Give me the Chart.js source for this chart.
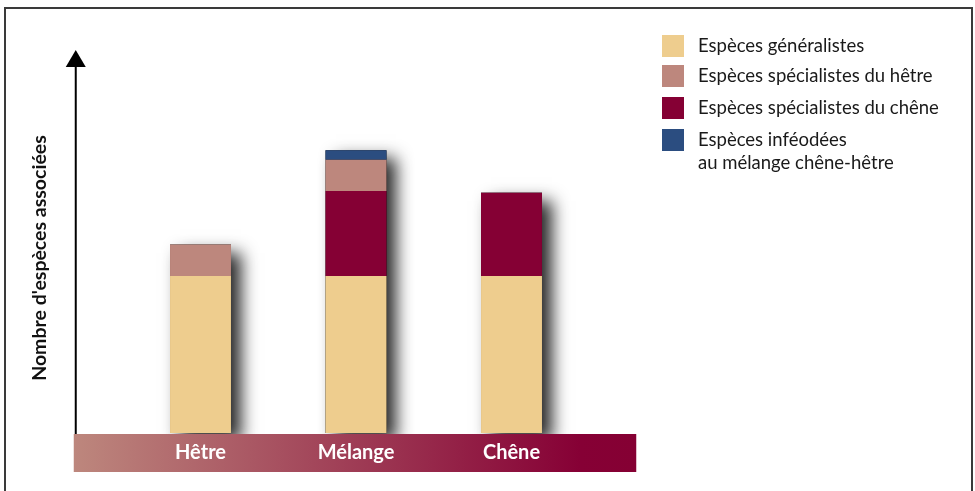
<!DOCTYPE html>
<html>
<head>
<meta charset="utf-8">
<script src="https://cdn.jsdelivr.net/npm/chart.js@4"></script>
<style>
  html, body { margin: 0; padding: 0; background: #fff; }
  #wrap { width: 975px; height: 491px; position: relative; }
</style>
</head>
<body>
<div id="wrap"><canvas id="myChart" width="975" height="491"></canvas></div>
<script>
// categories along the x band
const categories = ["Hêtre", "Mélange", "Chêne"];

// number of associated species (no scale shown, values read in relative units)
const generalistes = [50, 50, 50];
const specialistesHetre = [10, 10, 0];
const specialistesChene = [0, 27, 26.5];
const infeodees = [0, 3, 0];

const legendLabels = [
  ["Espèces généralistes"],
  ["Espèces spécialistes du hêtre"],
  ["Espèces spécialistes du chêne"],
  ["Espèces inféodées", "au mélange chêne-hêtre"],
];
const yTitle = "Nombre d'espèces associées";

const colors = ["#eecd8e", "#bd877d", "#850034", "#2b4d80"];

// frame, arrow, band, labels, legend and shadows drawn around the chart
const decorations = {
  id: "decorations",
  beforeDatasetsDraw(chart) {
    const ctx = chart.ctx;
    const base = chart.getDatasetMeta(0).data;
    ctx.save();
    ctx.shadowColor = "rgba(0,0,0,0.85)";
    ctx.shadowBlur = 16;
    ctx.shadowOffsetX = 10;
    ctx.shadowOffsetY = 8;
    ctx.fillStyle = "#000";
    for (let i = 0; i < base.length; i++) {
      let top = base[i].y;
      for (let d = 0; d < chart.data.datasets.length; d++) {
        const el = chart.getDatasetMeta(d).data[i];
        if (chart.data.datasets[d].data[i] > 0 && el.y < top) top = el.y;
      }
      const w = base[i].width;
      ctx.fillRect(base[i].x - w / 2, top, w, base[i].base - top);
    }
    ctx.restore();
  },
  afterDraw(chart) {
    const ctx = chart.ctx;
    const area = chart.chartArea;
    const x = chart.scales.x;
    ctx.save();

    // frame
    ctx.strokeStyle = "#3a3a3a";
    ctx.lineWidth = 2;
    ctx.strokeRect(5, 8, 967, 500);

    // band under the bars
    const bandL = area.left - 49, bandR = area.right + 47;
    const g = ctx.createLinearGradient(bandL, 0, bandR, 0);
    g.addColorStop(0, "#bd877d");
    g.addColorStop(0.9, "#860035");
    g.addColorStop(1, "#850033");
    ctx.fillStyle = g;
    ctx.fillRect(bandL, area.bottom + 1, bandR - bandL, 38);

    // y axis with arrow
    const ax = area.left - 47;
    ctx.strokeStyle = "#000";
    ctx.lineWidth = 2;
    ctx.beginPath();
    ctx.moveTo(ax, area.bottom + 1);
    ctx.lineTo(ax, area.top + 6);
    ctx.stroke();
    ctx.fillStyle = "#000";
    ctx.beginPath();
    ctx.moveTo(ax, area.top - 6);
    ctx.lineTo(ax - 10, area.top + 11);
    ctx.lineTo(ax + 10, area.top + 11);
    ctx.closePath();
    ctx.fill();

    // category labels
    ctx.fillStyle = "#fff";
    ctx.font = "bold 20px Lato";
    ctx.textAlign = "center";
    ctx.textBaseline = "middle";
    categories.forEach((c, i) => {
      ctx.fillText(c, x.getPixelForValue(i), area.bottom + 20);
    });

    // y title
    ctx.save();
    ctx.translate(40, 258);
    ctx.rotate(-Math.PI / 2);
    ctx.fillStyle = "#111";
    ctx.font = "bold 19.5px Lato";
    ctx.fillText(yTitle, 0, 0);
    ctx.restore();

    // legend
    ctx.textAlign = "left";
    ctx.font = "18.5px Lato";
    const rows = [46, 76, 108, 140];
    legendLabels.forEach((lines, i) => {
      ctx.fillStyle = colors[i];
      ctx.fillRect(662, rows[i] - 11, 22, 22);
      ctx.fillStyle = "#1a1a1a";
      lines.forEach((t, j) => ctx.fillText(t, 698, rows[i] + j * 23));
    });
    ctx.restore();
  },
};

const ctx = document.getElementById("myChart");
new Chart(ctx, {
  type: "bar",
  data: {
    labels: categories,
    // stacking order from the bottom: generalists, oak, beech, mixed
    datasets: [
      { label: legendLabels[0].join(" "), data: generalistes, backgroundColor: colors[0] },
      { label: legendLabels[2].join(" "), data: specialistesChene, backgroundColor: colors[2] },
      { label: legendLabels[1].join(" "), data: specialistesHetre, backgroundColor: colors[1] },
      { label: legendLabels[3].join(" "), data: infeodees, backgroundColor: colors[3] },
    ],
  },
  options: {
    responsive: false,
    animation: false,
    layout: { padding: { left: 122.75, right: 385.75, top: 56, bottom: 58 } },
    plugins: { legend: { display: false }, tooltip: { enabled: false } },
    scales: {
      x: { display: false, stacked: true },
      y: { display: false, stacked: true, min: 0, max: 120 },
    },
    datasets: { bar: { barPercentage: 1, categoryPercentage: 0.392, borderWidth: 0 } },
  },
  plugins: [decorations],
});
</script>
</body>
</html>
